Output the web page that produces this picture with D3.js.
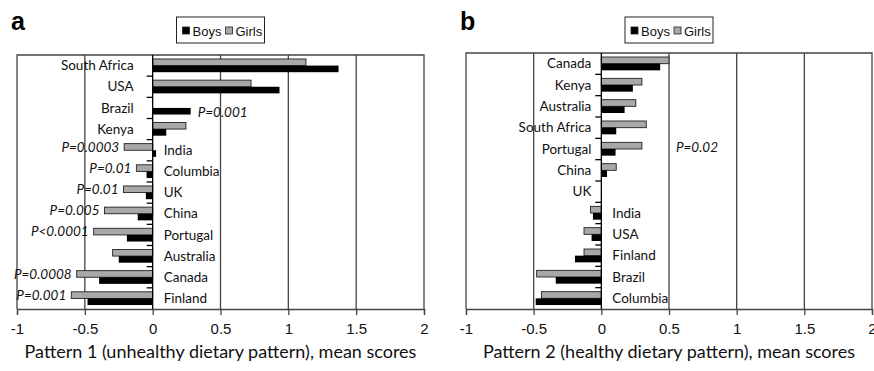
<!DOCTYPE html>
<html>
<head>
<meta charset="utf-8">
<script src="https://cdn.jsdelivr.net/npm/d3@7"></script>
<style>
  html, body { margin: 0; padding: 0; background: #fff; }
  svg { display: block; }
</style>
</head>
<body>
<svg id="chart" width="874" height="371"></svg>
<script>
// ── data: panel a (pattern 1) ──
const countriesA = ["South Africa", "USA", "Brazil", "Kenya", "India", "Columbia", "UK", "China", "Portugal", "Australia", "Canada", "Finland"];
const boysA  = [1.37, 0.935, 0.28, 0.10, 0.025, -0.045, -0.05, -0.11, -0.19, -0.25, -0.395, -0.48];
const girlsA = [1.13, 0.725, 0, 0.245, -0.21, -0.12, -0.215, -0.355, -0.435, -0.295, -0.56, -0.60];
const pA     = ["", "", "P=0.001", "", "P=0.0003", "P=0.01", "P=0.01", "P=0.005", "P<0.0001", "", "P=0.0008", "P=0.001"];

// ── data: panel b (pattern 2) ──
const countriesB = ["Canada", "Kenya", "Australia", "South Africa", "Portugal", "China", "UK", "India", "USA", "Finland", "Brazil", "Columbia"];
const boysB  = [0.435, 0.233, 0.172, 0.11, 0.105, 0.042, 0.005, -0.062, -0.072, -0.195, -0.337, -0.485];
const girlsB = [0.50, 0.30, 0.255, 0.332, 0.30, 0.11, 0, -0.08, -0.128, -0.128, -0.478, -0.443];
const pB     = ["", "", "", "", "P=0.02", "", "", "", "", "", "", ""];

const xTicks = [-1, -0.5, 0, 0.5, 1, 1.5, 2];
const legendItems = ["Boys", "Girls"];

const C = { boys: "#000", girls: "#a8a8a8", grid: "#444", text: "#111" };
const LABEL_FONT = "Lato, 'Open Sans', sans-serif";
const NUM_FONT = "'Liberation Sans', Arial, sans-serif";

const svg = d3.select("#chart");

function drawPanel(cfg) {
  const { letter, countries, boys, girls, pvals, title, x0, x1, top, bottom, leftGap, pGap } = cfg;
  const data = countries.map((c, i) => ({ c, boys: boys[i], girls: girls[i], p: pvals[i] }));

  const x = d3.scaleLinear().domain([-1, 2]).range([x0, x1]);
  const y = d3.scaleBand().domain(countries).range([top, bottom]).padding(0);
  const ys = d3.scaleBand().domain(["girls", "boys"]).range([0, y.bandwidth()]).paddingInner(0).paddingOuter(0.6);
  const g = svg.append("g");

  // panel letter
  g.append("text").attr("x", x0 - 6).attr("y", 30)
    .attr("font-family", NUM_FONT).attr("font-weight", "700").attr("font-size", "25px")
    .attr("fill", "#000").text(letter);

  // frame + gridlines
  g.append("path")
    .attr("d", `M${x(-1)},${bottom}V${top}H${x(2)}V${bottom}`)
    .attr("fill", "none").attr("stroke", C.grid).attr("stroke-width", 1.3);
  g.selectAll(".grid").data(xTicks.filter(t => t !== 0 && t !== -1 && t !== 2)).enter()
    .append("line").attr("class", "grid")
    .attr("x1", d => x(d)).attr("x2", d => x(d)).attr("y1", top).attr("y2", bottom)
    .attr("stroke", C.grid).attr("stroke-width", 1.3);

  // bottom axis
  const xAx = g.append("g").attr("transform", `translate(0,${bottom})`)
    .call(d3.axisBottom(x).tickValues(xTicks).tickSize(6).tickPadding(8).tickFormat(d => String(d)));
  xAx.select(".domain").attr("stroke", C.grid).attr("stroke-width", 1.3);
  xAx.selectAll(".tick line").attr("stroke", C.grid).attr("stroke-width", 1.3);
  xAx.selectAll("text").attr("font-family", NUM_FONT).attr("font-size", "15px").attr("fill", C.text);

  // bars
  const rows = g.selectAll(".row").data(data).enter().append("g")
    .attr("class", "row").attr("transform", d => `translate(0,${y(d.c)})`);
  rows.append("rect")
    .attr("x", d => x(Math.min(0, d.girls))).attr("width", d => Math.abs(x(d.girls) - x(0)))
    .attr("y", ys("girls")).attr("height", ys.bandwidth())
    .attr("fill", C.girls).attr("stroke", d => d.girls === 0 ? "none" : "#222").attr("stroke-width", 0.9);
  rows.append("rect")
    .attr("x", d => x(Math.min(0, d.boys))).attr("width", d => Math.abs(x(d.boys) - x(0)))
    .attr("y", ys("boys")).attr("height", ys.bandwidth())
    .attr("fill", C.boys);

  // y axis at zero with ticks between categories
  g.append("line").attr("x1", x(0)).attr("x2", x(0)).attr("y1", top).attr("y2", bottom)
    .attr("stroke", "#000").attr("stroke-width", 1.3);
  g.selectAll(".ytick").data(countries.slice(1)).enter().append("line")
    .attr("x1", x(0) - 6).attr("x2", x(0)).attr("y1", d => y(d)).attr("y2", d => y(d))
    .attr("stroke", "#000").attr("stroke-width", 1.3);

  // category labels: opposite side of the bars
  rows.append("text")
    .attr("x", d => d.boys + d.girls >= 0 ? x(0) - leftGap : x(0) + 11)
    .attr("y", y.bandwidth() / 2)
    .attr("dy", "0.35em")
    .attr("text-anchor", d => d.boys + d.girls >= 0 ? "end" : "start")
    .attr("font-family", LABEL_FONT).attr("font-size", "13.5px").attr("fill", C.text)
    .text(d => d.c);

  // p-values
  rows.filter(d => d.p).append("text")
    .each(function (d) {
      const key = Math.abs(d.girls) >= Math.abs(d.boys) ? "girls" : "boys";
      const v = d[key];
      const sel = d3.select(this)
        .attr("y", ys(key) + ys.bandwidth() / 2 + (v < 0 ? 0 : 1.5))
        .attr("dy", "0.35em");
      if (v < 0) sel.attr("x", x(v) - 5).attr("text-anchor", "end");
      else sel.attr("x", x(v) + pGap).attr("text-anchor", "start");
    })
    .attr("font-family", LABEL_FONT).attr("font-style", "italic").attr("font-size", "13.5px")
    .attr("fill", C.text).text(d => d.p);

  // x title
  g.append("text").attr("x", (x0 + x1) / 2).attr("y", 358).attr("text-anchor", "middle")
    .attr("font-family", LABEL_FONT).attr("font-size", "18px").attr("fill", C.text).text(title);

  // legend
  const lw = 88, lh = 26, lx = (x0 + x1) / 2 - lw / 2, ly = 17;
  const lg = g.append("g").attr("transform", `translate(${lx},${ly})`);
  lg.append("rect").attr("width", lw).attr("height", lh).attr("fill", "#fff")
    .attr("stroke", "#222").attr("stroke-width", 1);
  const li = lg.selectAll(".li").data(legendItems).enter().append("g")
    .attr("transform", (d, i) => `translate(${i === 0 ? 6 : 49},0)`);
  li.append("rect").attr("y", 10).attr("width", 7).attr("height", 7)
    .attr("fill", d => d === "Boys" ? C.boys : C.girls).attr("stroke", "#222").attr("stroke-width", 0.8);
  li.append("text").attr("x", 10).attr("y", 18.5)
    .attr("font-family", NUM_FONT).attr("font-size", "13px").attr("fill", C.text).text(d => d);
}

drawPanel({
  letter: "a", countries: countriesA, boys: boysA, girls: girlsA, pvals: pA,
  title: "Pattern 1 (unhealthy dietary pattern), mean scores",
  x0: 17, x1: 424, top: 55, bottom: 309, leftGap: 19, pGap: 7
});
drawPanel({
  letter: "b", countries: countriesB, boys: boysB, girls: girlsB, pvals: pB,
  title: "Pattern 2 (healthy dietary pattern), mean scores",
  x0: 466, x1: 872, top: 53, bottom: 309, leftGap: 10, pGap: 34
});
</script>
</body>
</html>
